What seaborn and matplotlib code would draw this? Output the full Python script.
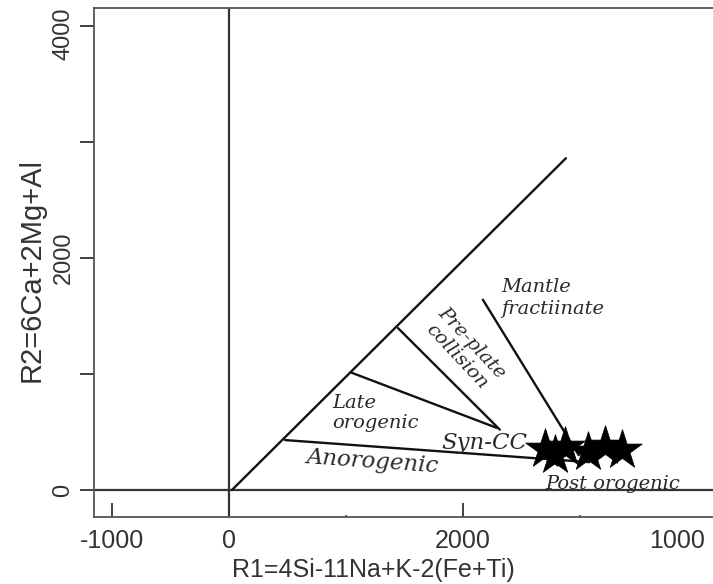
import pandas as pd
import matplotlib
matplotlib.use("Agg")
import matplotlib.pyplot as plt
import matplotlib.transforms as mtransforms
import seaborn as sns


# boundary segments of the R1-R2 diagram (start / end in data units)
BOUNDARY_NAMES = ["diagonal", "anorogenic", "late", "syn", "mantle"]
BOUNDARY_R1_START = [25, 480, 1050, 1445, 2170]
BOUNDARY_R2_START = [0, 430, 1010, 1395, 1640]
BOUNDARY_R1_END = [2880, 3080, 2290, 2315, 2990]
BOUNDARY_R2_END = [2860, 240, 535, 520, 300]

# samples (black stars)
SAMPLE_R1 = [2700, 2790, 2870, 3070, 3210, 3360]
SAMPLE_R2 = [350, 300, 370, 330, 380, 345]

X_TICKS = [-1000, 0, 2000, 4000]
X_TICK_LABELS = ["-1000", "0", "2000", "1000"]
Y_TICKS = [0, 1000, 2000, 3000, 4000]
Y_TICK_LABELS = ["0", "", "2000", "", "4000"]

REGION_LABELS = ["Mantle\nfractiinate", "Pre-plate\ncollision", "Late\norogenic",
                 "Syn-CC", "Anorogenic", "Post orogenic"]
REGION_R1 = [2330, 2010, 880, 1815, 1230, 3280]
REGION_R2 = [1655, 1210, 665, 405, 240, 52]

OUT_PATH = "out.png"


def main():
    sns.set_style("ticks")
    plt.rcParams["font.family"] = ["Liberation Sans", "DejaVu Sans"]

    seg = pd.DataFrame({
        "name": BOUNDARY_NAMES * 2,
        "R1": BOUNDARY_R1_START + BOUNDARY_R1_END,
        "R2": BOUNDARY_R2_START + BOUNDARY_R2_END,
    })
    samples = pd.DataFrame({"R1": SAMPLE_R1, "R2": SAMPLE_R2})

    fig = plt.figure(figsize=(7.13, 5.84), dpi=100)
    ax = fig.add_axes([94 / 713, 1 - 517 / 584, 650 / 713, 509 / 584])

    ax.axhline(0, color="#333333", lw=1.6, zorder=1)
    ax.axvline(0, color="#333333", lw=1.6, zorder=1)

    sns.lineplot(
        data=seg, x="R1", y="R2", units="name", estimator=None, sort=False,
        color="#111111", lw=1.7, ax=ax, legend=False
    )

    sns.scatterplot(
        data=samples, x="R1", y="R2", marker="*", s=900,
        color="black", edgecolor="black", linewidth=0.5, zorder=5, ax=ax
    )

    serif = dict(family="DejaVu Serif", style="italic", color="#2a2a2a")
    ax.text(REGION_R1[0], REGION_R2[0], REGION_LABELS[0], ha="left", va="center",
            fontsize=14, linespacing=1.25, **serif)
    ax.text(REGION_R1[1], REGION_R2[1], REGION_LABELS[1], ha="center", va="center",
            fontsize=14, rotation=-47, linespacing=1.1, rotation_mode="anchor", **serif)
    ax.text(REGION_R1[2], REGION_R2[2], REGION_LABELS[2], ha="left", va="center",
            fontsize=14, linespacing=1.15, **serif)
    ax.text(REGION_R1[3], REGION_R2[3], REGION_LABELS[3], ha="left", va="center",
            fontsize=16.5, zorder=2, **serif)
    ax.text(REGION_R1[4], REGION_R2[4], REGION_LABELS[4], ha="center", va="center",
            fontsize=16.5, rotation=-4, **serif)
    ax.text(REGION_R1[5], REGION_R2[5], REGION_LABELS[5], ha="center", va="center",
            fontsize=14, **serif)

    ax.set_xlim(-1154, 4402)
    ax.set_ylim(-233, 4155)

    ax.set_xticks(X_TICKS)
    ax.set_xticklabels(X_TICK_LABELS)
    ax.set_xticks([1000, 3000], minor=True)
    ax.tick_params(axis="x", which="major", direction="in", length=10, width=1.3,
                   pad=9, labelsize=18, colors="#333333")
    ax.tick_params(axis="x", which="minor", direction="in", length=1.5, width=1.3,
                   colors="#555555")
    ax.xaxis.get_major_ticks()[-1].tick1line.set_visible(False)
    # the last label sits a little left of its tick, as in the original
    last = ax.get_xticklabels()[-1]
    last.set_transform(last.get_transform() +
                       mtransforms.ScaledTranslation(-0.2, 0, fig.dpi_scale_trans))

    ax.set_yticks(Y_TICKS)
    ax.set_yticklabels(Y_TICK_LABELS, rotation=90, va="center")
    ax.tick_params(axis="y", direction="out", length=10, width=1.3,
                   pad=4, labelsize=17, colors="#333333")
    # top label is nudged down so it stays inside the figure
    top = ax.get_yticklabels()[-1]
    top.set_transform(top.get_transform() +
                      mtransforms.ScaledTranslation(0, -0.08, fig.dpi_scale_trans))

    for side in ["left", "bottom", "top", "right"]:
        ax.spines[side].set_color("#555555")
        ax.spines[side].set_linewidth(1.3)

    ax.set_xlabel("R1=4Si-11Na+K-2(Fe+Ti)", fontsize=18, color="#333333")
    ax.set_ylabel("R2=6Ca+2Mg+Al", fontsize=21, color="#333333")
    ax.xaxis.set_label_coords(0.43, -0.08)
    ax.yaxis.set_label_coords(-0.075, 0.485)

    fig.savefig(OUT_PATH, dpi=100)
    plt.close(fig)


if __name__ == "__main__":
    main()
